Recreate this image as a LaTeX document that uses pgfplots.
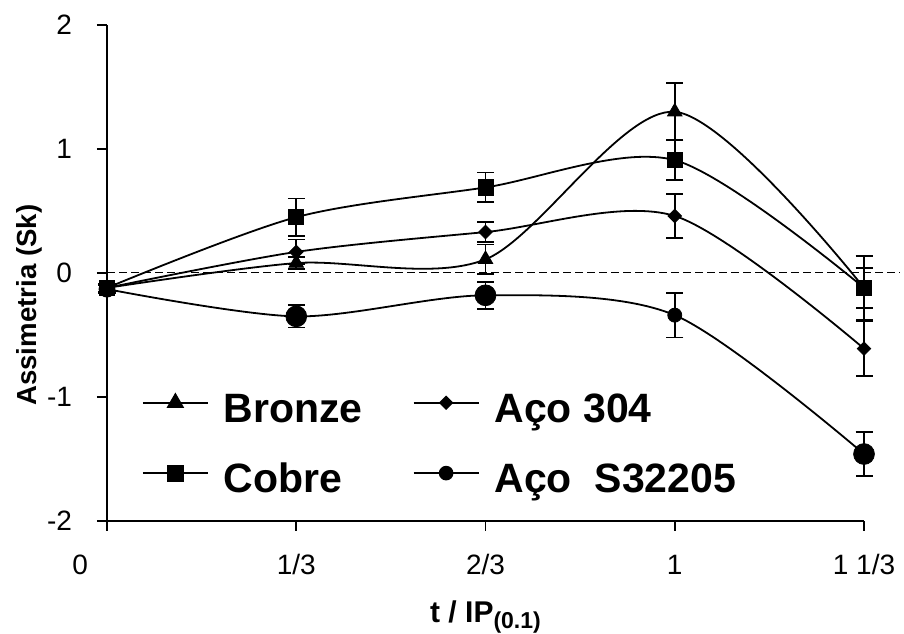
\documentclass[border=0pt]{standalone}
\usepackage{fontspec}
\setmainfont{Liberation Sans}
\usepackage{pgfplots}
\usepackage{pgfplotstable}
\pgfplotsset{compat=1.18}

% t / IP(0.1) in thirds, skewness Sk, error (half-width)
\pgfplotstableread{
x        y      e
0        -0.12  0.03
0.333333  0.08  0.05
0.666667  0.11  0.12
1         1.30  0.23
1.333333 -0.12  0.26
}\bronze
\pgfplotstableread{
x        y      e
0        -0.12  0.03
0.333333  0.45  0.15
0.666667  0.69  0.12
1         0.91  0.16
1.333333 -0.12  0.16
}\cobre
\pgfplotstableread{
x        y      e
0        -0.12  0.03
0.333333  0.17  0.10
0.666667  0.33  0.08
1         0.46  0.18
1.333333 -0.61  0.22
}\acoA
\pgfplotstableread{
x        y      e     ms
0        -0.13  0.03  4.0
0.333333 -0.35  0.09  5.2
0.666667 -0.18  0.11  5.2
1        -0.34  0.18  3.5
1.333333 -1.46  0.18  5.2
}\acoS

\pgfplotsset{
  series/.style={black, line width=0.9pt, smooth, tension=0.5, no markers,
    error bars/.cd, y dir=both, y explicit,
    error bar style={line width=0.9pt, solid},
    error mark options={line width=0.9pt, mark size=4.25pt, rotate=90},
    /pgfplots/.cd},
}

\begin{document}
\begin{tikzpicture}
\begin{axis}[
  scale only axis,
  width=378.5pt, height=248pt,
  axis lines*=left,
  axis line style={line width=0.8pt},
  xmin=0, xmax=1.333333,
  ymin=-2, ymax=2,
  clip=false,
  xtick={0,0.333333,0.666667,1,1.333333},
  xticklabels={\llap{0\hspace{9.5pt}},1/3,2/3,1,1 1/3},
  ytick={-2,-1,0,1,2},
  yticklabels={-2,-1,0,1,2},
  tick align=outside,
  major tick length=5pt,
  every tick/.style={black, line width=0.8pt},
  tick label style={font=\fontsize{14}{16}\selectfont},
  xticklabel style={anchor=base, yshift=-22pt},
  yticklabel style={anchor=east, xshift=-9pt},
  xlabel={\textbf{t / IP\raisebox{-0.35ex}{\fontsize{11.5}{12}\selectfont (0.1)}}},
  ylabel={\textbf{Assimetria (Sk)}},
  xlabel style={font=\fontsize{15}{17}\selectfont, at={(axis description cs:0.5,0)}, anchor=base, yshift=-51pt},
  ylabel style={font=\fontsize{13.8}{16}\selectfont, at={(axis description cs:-0.102,0.435)}, anchor=center},
  legend columns=2,
  legend cell align=left,
  legend style={
    draw=none, fill=none, inner sep=0pt, outer sep=0pt,
    at={(axis description cs:0.0462,0.258)}, anchor=north west,
    font=\fontsize{20.5}{23}\selectfont\bfseries,
    nodes={inner sep=0pt, text height=14.7pt, text depth=4pt},
    row sep=16.5pt,
    /tikz/every odd column/.append style={column sep=7.5pt},
    /tikz/every even column/.append style={column sep=25pt},
  },
  legend image code/.code={
    \draw[#1, mark repeat=2, mark phase=2]
      plot coordinates {(0pt,4.5pt) (16.25pt,4.5pt) (32.5pt,4.5pt)};
  },
]
% zero reference line
\addplot[black, line width=0.5pt, dash pattern=on 4pt off 2pt, forget plot]
  coordinates {(0,0) (1.397,0)};

% smoothed series with error bars
\addplot[forget plot, series] table[x=x, y=y, y error=e] {\bronze};
\addplot[forget plot, series] table[x=x, y=y, y error=e] {\cobre};
\addplot[forget plot, series] table[x=x, y=y, y error=e] {\acoA};
\addplot[forget plot, series] table[x=x, y=y, y error=e] {\acoS};

% markers
\addplot[only marks, mark=triangle*, mark size=4.2pt, black, forget plot]
  table[x=x, y=y] {\bronze};
\addplot[only marks, mark=square*, mark size=3.8pt, black, forget plot]
  table[x=x, y=y] {\cobre};
\addplot[only marks, mark=square*, mark size=2.4pt, black,
  mark options={rotate=45}, forget plot]
  table[x=x, y=y] {\acoA};
\addplot[only marks, mark=*, black, forget plot,
  scatter, scatter/use mapped color={draw=black, fill=black},
  visualization depends on={\thisrow{ms} \as \ms},
  scatter/@pre marker code/.append style={/tikz/mark size=\ms pt}]
  table[x=x, y=y] {\acoS};

% legend
\addlegendimage{black, line width=0.9pt, mark=triangle*, mark size=4.2pt}
\addlegendentry{Bronze}
\addlegendimage{black, line width=0.9pt, mark=square*, mark size=2.1pt, mark options={rotate=45}}
\addlegendentry{Aço 304}
\addlegendimage{black, line width=0.9pt, mark=square*, mark size=3.8pt}
\addlegendentry{Cobre}
\addlegendimage{black, line width=0.9pt, mark=*, mark size=3.2pt}
\addlegendentry{Aço\ \ S32205}

\coordinate (bl) at (rel axis cs:0,0);
\coordinate (tr) at (rel axis cs:1,1);
\end{axis}
\pgfresetboundingbox
\path[use as bounding box] ([shift={(-53.5pt,-56.5pt)}]bl) rectangle ([shift={(20pt,12.5pt)}]tr);
\end{tikzpicture}
\end{document}
